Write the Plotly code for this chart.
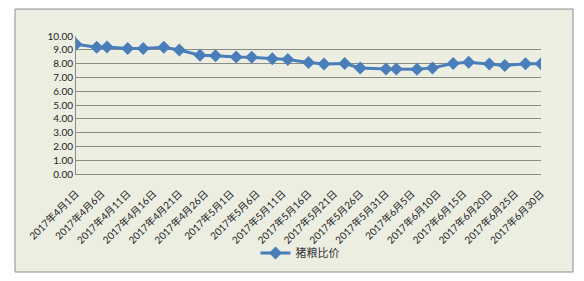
import plotly.graph_objects as go

dates = ["2017-04-01", "2017-04-05", "2017-04-07", "2017-04-11", "2017-04-14",
         "2017-04-18", "2017-04-21", "2017-04-25", "2017-04-28", "2017-05-02",
         "2017-05-05", "2017-05-09", "2017-05-12", "2017-05-16", "2017-05-19",
         "2017-05-23", "2017-05-26", "2017-05-31", "2017-06-02", "2017-06-06",
         "2017-06-09", "2017-06-13", "2017-06-16", "2017-06-20", "2017-06-23",
         "2017-06-27", "2017-06-30"]
values = [9.40, 9.18, 9.20, 9.10, 9.10, 9.19, 8.98, 8.60, 8.56, 8.47,
          8.46, 8.36, 8.29, 8.08, 7.98, 8.00, 7.68, 7.60, 7.60, 7.59,
          7.69, 8.01, 8.10, 7.98, 7.86, 7.99, 7.99]

tick_dates = ["2017-04-01", "2017-04-06", "2017-04-11", "2017-04-16", "2017-04-21",
              "2017-04-26", "2017-05-01", "2017-05-06", "2017-05-11", "2017-05-16",
              "2017-05-21", "2017-05-26", "2017-05-31", "2017-06-05", "2017-06-10",
              "2017-06-15", "2017-06-20", "2017-06-25", "2017-06-30"]
tick_labels = ["2017年4月1日", "2017年4月6日", "2017年4月11日", "2017年4月16日",
               "2017年4月21日", "2017年4月26日", "2017年5月1日", "2017年5月6日",
               "2017年5月11日", "2017年5月16日", "2017年5月21日", "2017年5月26日",
               "2017年5月31日", "2017年6月5日", "2017年6月10日", "2017年6月15日",
               "2017年6月20日", "2017年6月25日", "2017年6月30日"]
series_name = "猪粮比价"

blue = "#4A7EBB"
bg = "#ECEEE2"
grid = "#8A8C86"
font_family = "Lato, 'Noto Sans CJK SC', sans-serif"

fig = go.Figure()
fig.add_trace(go.Scatter(
    x=dates, y=values, name=series_name, mode="lines+markers",
    line=dict(color=blue, width=3),
    marker=dict(symbol="diamond", size=10, color=blue),
))

# plot area in pixels: x 76..541, y 36..174
L, R, T, B = 76, 541, 36, 174
W, H = R - L, B - T
def px_x(p):
    return (p - L) / W
def px_y(p):
    return (B - p) / H

fig.add_shape(type="rect", xref="paper", yref="paper",
              x0=px_x(15), x1=px_x(573), y0=px_y(272), y1=px_y(9),
              fillcolor=bg, line=dict(color="#8C8C8C", width=1), layer="below")

fig.update_layout(
    width=584, height=281,
    margin=dict(l=L, r=584 - R, t=T, b=281 - B),
    paper_bgcolor="white",
    plot_bgcolor="rgba(0,0,0,0)",
    font=dict(family=font_family, size=10, color="#222222"),
    showlegend=True,
    legend=dict(orientation="h", x=px_x(300), xanchor="center",
                y=px_y(253), yanchor="middle",
                font=dict(size=11, color="#333333"),
                bgcolor="rgba(0,0,0,0)"),
    xaxis=dict(
        type="date", range=["2017-04-01", "2017-06-30"],
        tickvals=tick_dates, ticktext=tick_labels, tickangle=-45,
        tickfont=dict(size=10, color="#222222"),
        ticklabelstandoff=9,
        showgrid=False, zeroline=False,
        showline=True, linecolor=grid, linewidth=1,
        ticks="", fixedrange=True,
    ),
    yaxis=dict(
        range=[0, 10], dtick=1, tickformat=".2f",
        tickfont=dict(size=10, color="#222222"),
        showgrid=True, gridcolor=grid, gridwidth=1,
        zeroline=False, showline=True, linecolor=grid, linewidth=1,
        ticks="", ticklen=0, fixedrange=True,
    ),
)

fig.write_html("out.html")
